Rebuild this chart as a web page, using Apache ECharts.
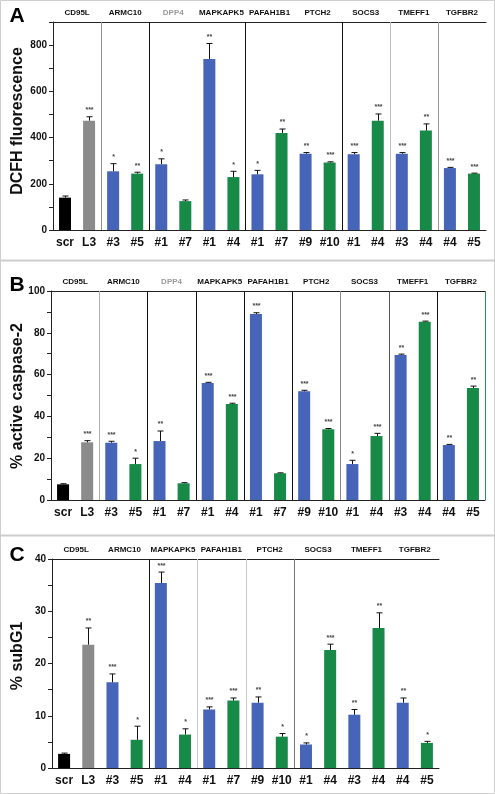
<!DOCTYPE html>
<html><head><meta charset="utf-8">
<script src="https://cdn.jsdelivr.net/npm/echarts@6/dist/echarts.min.js"></script>
<style>html,body{margin:0;padding:0;background:#fff}#c{width:495px;height:794px}</style>
</head><body><div id="c"></div>
<script>
// ---------- data ----------
const catsA = ['scr','L3','#3','#5','#1','#7','#1','#4','#1','#7','#9','#10','#1','#4','#3','#4','#4','#5'];
const groupsA = ['CD95L','ARMC10','DPP4','MAPKAPK5','PAFAH1B1','PTCH2','SOCS3','TMEFF1','TGFBR2'];
const valuesA = [140,473,254,244,285,125,740,229,241,420,330,292,328,473,330,430,268,244];
const errorsA = [7,17,33,6,23,5,67,25,17,17,5,3,7,29,5,29,3,2];
const sigA = ['','***','*','**','*','','**','*','*','**','**','***','***','***','***','**','***','***'];

const catsB = ['scr','L3','#3','#5','#1','#7','#1','#4','#1','#7','#9','#10','#1','#4','#3','#4','#4','#5'];
const groupsB = ['CD95L','ARMC10','DPP4','MAPKAPK5','PAFAH1B1','PTCH2','SOCS3','TMEFF1','TGFBR2'];
const valuesB = [7.5,27.6,27.4,17.2,28.2,8,56,45.9,89,12.8,52,33.8,17.2,30.6,69.4,85.3,26.3,53.6];
const errorsB = [0.3,0.8,0.7,2.8,4.8,0.3,0.3,0.4,0.6,0.2,0.5,0.4,1.8,1.3,0.4,0.3,0.3,0.9];
const sigB = ['','***','***','*','**','','***','***','***','','***','***','*','***','**','***','**','**'];

const catsC = ['scr','L3','#3','#5','#1','#4','#1','#7','#9','#10','#1','#4','#3','#4','#4','#5'];
const groupsC = ['CD95L','ARMC10','MAPKAPK5','PAFAH1B1','PTCH2','SOCS3','TMEFF1','TGFBR2'];
const valuesC = [2.7,23.6,16.4,5.4,35.4,6.4,11.2,12.9,12.5,6.0,4.5,22.6,10.2,26.8,12.5,4.8];
const errorsC = [0.15,3.2,1.6,2.6,2.1,1.1,0.5,0.5,1.1,0.6,0.3,1.1,1.0,2.9,0.9,0.3];
const sigC = ['','**','***','*','***','*','***','***','**','*','*','***','**','**','**','*'];

// separators: [after category index, colour]
const sepA = [[1,'#8f8f8f'],[3,'#111'],[7,'#111'],[11,'#111'],[13,'#bdbdbd'],[15,'#999']];
const sepB = [[1,'#b0b0b0'],[3,'#111'],[5,'#111'],[7,'#111'],[9,'#111'],[11,'#8a8a8a'],[13,'#555'],[15,'#111'],[17,'#2e8b5a']];
const sepC = [[3,'#111'],[5,'#c8c8c8'],[7,'#c8c8c8'],[9,'#777']];

// ---------- styles ----------
const BLUE = '#4665b9', GREEN = '#178a48', GRAYBAR = '#8b8b8b';
const FONT = 'Liberation Sans, Arial, sans-serif';
function colorFor(i){ if(i===0) return '#000'; if(i===1) return GRAYBAR; return i%2===0 ? BLUE : GREEN; }

const grids = [
  {left:53, top:22, width:433, height:208},
  {left:51, top:291, width:434, height:209},
  {left:52, top:559, width:387, height:209}
];
const panels = [
  {cats:catsA, groups:groupsA, vals:valuesA, errs:errorsA, sig:sigA, seps:sepA, max:900, step:100, lab:200},
  {cats:catsB, groups:groupsB, vals:valuesB, errs:errorsB, sig:sigB, seps:sepB, max:100, step:10, lab:20},
  {cats:catsC, groups:groupsC, vals:valuesC, errs:errorsC, sig:sigC, seps:sepC, max:40, step:5, lab:10}
];

const xAxis = [], yAxis = [], series = [];
panels.forEach((p, g) => {
  xAxis.push({type:'category', gridIndex:g, data:p.cats, boundaryGap:true,
    axisLine:{lineStyle:{color:'#222', width:1}}, axisTick:{show:false},
    axisLabel:{interval:0, margin:7, fontSize:12, fontWeight:'bold', color:'#111', fontFamily:FONT}});
  yAxis.push({type:'value', gridIndex:g, min:0, max:p.max, interval:p.step,
    axisLine:{show:true, lineStyle:{color:'#222'}}, axisTick:{show:true, length:4, lineStyle:{color:'#222'}},
    splitLine:{show:false},
    axisLabel:{margin:6, fontSize:10, fontWeight:'bold', color:'#111', fontFamily:FONT,
      formatter: v => (Math.round(v) % p.lab === 0 ? String(v) : '')}});
  series.push({type:'bar', xAxisIndex:g, yAxisIndex:g, barWidth:12, z:2,
    data:p.vals.map((v,i)=>({value:v, itemStyle:{color:colorFor(i)}}))});
  series.push({type:'custom', xAxisIndex:g, yAxisIndex:g, z:4, clip:false,
    data:p.vals.map((v,i)=>[i, v, v + p.errs[i]]),
    renderItem:(params, api) => {
      const i = api.value(0);
      const p0 = api.coord([i, api.value(1)]);
      const p1 = api.coord([i, api.value(2)]);
      const x = Math.round(p0[0]) + 0.5;
      return {type:'group', children:[
        {type:'line', shape:{x1:x, y1:p0[1], x2:x, y2:p1[1]}, style:{stroke:'#111', lineWidth:1}},
        {type:'line', shape:{x1:x-3, y1:p1[1], x2:x+3, y2:p1[1]}, style:{stroke:'#111', lineWidth:1}},
        {type:'text', style:{text:p.sig[params.dataIndex], x:x, y:p1[1]-3, textAlign:'center', textVerticalAlign:'bottom',
          font:'bold 7px '+FONT, fill:'#444'}}
      ]};
    }});
  series.push({type:'custom', xAxisIndex:g, yAxisIndex:g, z:3, clip:false,
    data:p.seps.map(s=>[s[0], 0]),
    renderItem:(params, api) => {
      const cs = params.coordSys;
      const w = api.size([1,0])[0];
      const c = api.coord([api.value(0), 0]);
      const x = Math.round(c[0] + w/2) + 0.5;
      return {type:'line', shape:{x1:x, y1:cs.y, x2:x, y2:cs.y+cs.height},
        style:{stroke:p.seps[params.dataIndex][1], lineWidth:1}};
    }});
});
panels.forEach((p, g) => {
  xAxis.push({type:'category', gridIndex:g, position:'top', data:p.groups, boundaryGap:true,
    axisLine:{lineStyle:{color:'#222'}}, axisTick:{show:false},
    axisLabel:{interval:0, margin:5, fontSize:8, fontWeight:'bold', fontFamily:FONT,
      color:(v)=> v==='DPP4' ? '#9a9a9a' : '#111'}});
});

const titles = [
  {t:'DCFH fluorescence', y:121},
  {t:'% active caspase-2', y:396},
  {t:'% subG1', y:656}
];
const letters = [{t:'A', y:16},{t:'B', y:285},{t:'C', y:555}];
const graphic = [
  {type:'rect', shape:{x:0.5, y:0.5, width:494, height:793}, style:{fill:'none', stroke:'#cfcfcf', lineWidth:1}},
  {type:'line', shape:{x1:0, y1:260.5, x2:495, y2:260.5}, style:{stroke:'#cdcdcd', lineWidth:2}},
  {type:'line', shape:{x1:0, y1:535.5, x2:495, y2:535.5}, style:{stroke:'#cdcdcd', lineWidth:2}}
];
titles.forEach(o => graphic.push({type:'text', x:18, y:o.y, rotation:Math.PI/2,
  style:{text:o.t, font:'bold 16px '+FONT, fill:'#111', textAlign:'center', textVerticalAlign:'middle'}}));
letters.forEach(o => graphic.push({type:'text', x:17, y:o.y,
  style:{text:o.t, font:'bold 21px '+FONT, fill:'#000', textAlign:'center', textVerticalAlign:'middle'}}));

const chart = echarts.init(document.getElementById('c'), null, {renderer:'canvas'});
chart.setOption({animation:false, backgroundColor:'#fff', grid:grids, xAxis, yAxis, series, graphic});
</script></body></html>
